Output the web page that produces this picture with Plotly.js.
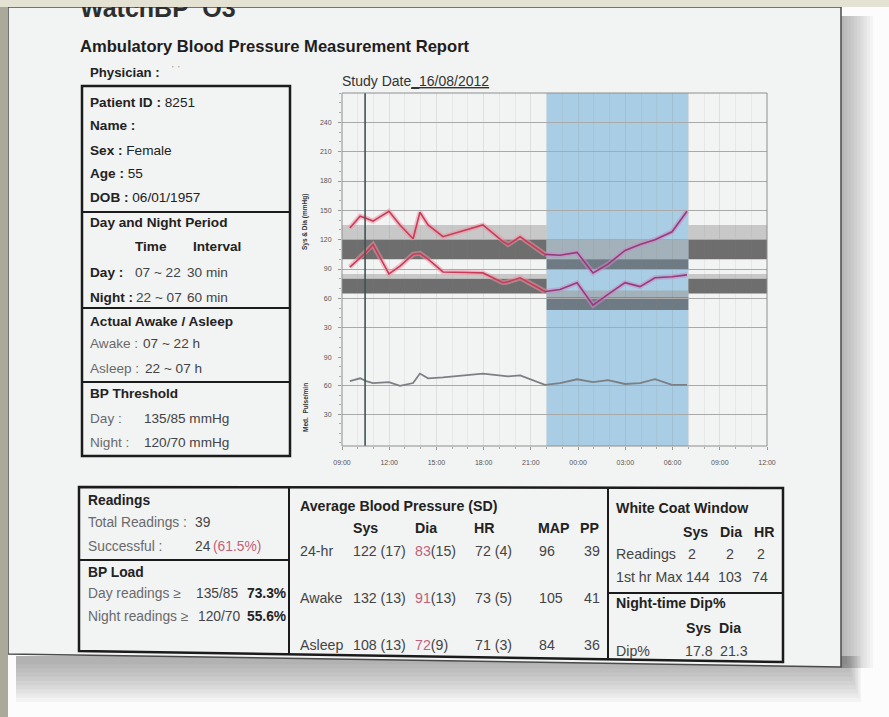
<!DOCTYPE html>
<html><head><meta charset="utf-8">
<script src="https://cdn.plot.ly/plotly-3.0.1.min.js"></script>
<style>html,body{margin:0;padding:0;background:#fff;}#chart{width:889px;height:717px;}</style>
</head><body><div id="chart"></div>
<script>
// ---------- data ----------
const readingTimes = ["2012-08-16 09:30","2012-08-16 10:09","2012-08-16 10:32","2012-08-16 10:58","2012-08-16 11:59","2012-08-16 12:41","2012-08-16 13:31","2012-08-16 13:57","2012-08-16 14:28","2012-08-16 15:25","2012-08-16 17:57","2012-08-16 19:14","2012-08-16 19:33","2012-08-16 20:19","2012-08-16 21:54","2012-08-16 22:51","2012-08-16 23:56","2012-08-17 00:57","2012-08-17 01:54","2012-08-17 02:59","2012-08-17 03:56","2012-08-17 04:53","2012-08-17 05:58","2012-08-17 06:55"];
const sysValues = [132,144,142,139,149,135,121,148,135,123,135,118,115,123,105,104,107,86,95,109,115,120,128,149];
const diaValues = [92,102,107,115,85,93,105,106,100,87,86,76,77,81,67,69,76,53,64,76,72,81,82,84];
const hrValues  = [65,68,65,63,64,60,63,73,68,69,73,71,70,71,61,63,67,64,66,62,63,67,61,61];

const axisStart = "2012-08-16 09:00";
const axisEnd   = "2012-08-17 12:00";
const nightStart = "2012-08-16 22:00";
const nightEnd   = "2012-08-17 07:00";
const whiteCoatEnd = "2012-08-16 10:28";

const bpTicks = [30,60,90,120,150,180,210,240];
const hrTicks = [30,60,90];

// threshold bands [low, high]
const daySysLight = [120,135], daySysDark = [100,120];
const dayDiaLight = [80,85],   dayDiaDark = [65,80];
const nightSysLight = [100,120], nightSysDark = [90,100];
const nightDiaLight = [61,68],   nightDiaDark = [48,61];

// report tables
const avgHeaders = ["Sys","Dia","HR","MAP","PP"];
const avgRowNames = ["24-hr","Awake","Asleep"];
const avgSys = ["122 (17)","132 (13)","108 (13)"];
const avgDia = ["83","91","72"];
const avgDiaSD = ["(15)","(13)","(9)"];
const avgHR = ["72 (4)","73 (5)","71 (3)"];
const avgMAP = ["96","105","84"];
const avgPP = ["39","41","36"];
const wcHeaders = ["Sys","Dia","HR"];
const wcReadings = ["2","2","2"];
const wcFirstMax = ["144","103","74"];
const dipHeaders = ["Sys","Dia"];
const dipValues = ["17.8","21.3"];

// ---------- layout helpers ----------
const W = 889, H = 717;
const F = "'Liberation Sans', Arial, sans-serif";
const px = x => x / W, py = y => 1 - y / H;
const PL = 342, PR = 767, PT = 93, PM = 357, PB = 446;

function T(text, x, y, o = {}) {
  return {text, x: px(x), y: py(y), xref: 'paper', yref: 'paper',
    xanchor: o.anchor || 'left', yanchor: 'middle', showarrow: false,
    textangle: o.angle || 0,
    font: {family: F, size: o.size || 13.6, color: o.color || '#222'}};
}
function line(x0, y0, x1, y1, w, c) {
  return {type: 'line', xref: 'paper', yref: 'paper', x0: px(x0), y0: py(y0), x1: px(x1), y1: py(y1),
    line: {color: c || '#1b1b1b', width: w || 2}, layer: 'above'};
}
function rectP(x0, y0, x1, y1, fill, lc, lw, layer) {
  return {type: 'rect', xref: 'paper', yref: 'paper', x0: px(x0), y0: py(y1), x1: px(x1), y1: py(y0),
    fillcolor: fill || 'rgba(0,0,0,0)', line: {color: lc || 'rgba(0,0,0,0)', width: lw || 0}, layer: layer || 'below'};
}
function poly(pts, fill, lc, lw, layer) {
  const d = pts.map((p, i) => (i ? 'L ' : 'M ') + px(p[0]) + ' ' + py(p[1])).join(' ') + ' Z';
  return {type: 'path', xref: 'paper', yref: 'paper', path: d, fillcolor: fill || 'rgba(0,0,0,0)',
    line: {color: lc || 'rgba(0,0,0,0)', width: lw || 0}, layer: layer || 'below'};
}
function band(t0, t1, r, color) {
  return {type: 'rect', xref: 'x', yref: 'y', x0: t0, x1: t1, y0: r[0], y1: r[1],
    fillcolor: color, line: {width: 0}, layer: 'below'};
}

// ---------- traces ----------
const k = readingTimes.findIndex(t => t >= nightStart) - 1;
const dayT = readingTimes.slice(0, k + 1), nightT = readingTimes.slice(k);
function bpTraces(vals) {
  const d = vals.slice(0, k + 1), n = vals.slice(k);
  return [
    {x: dayT, y: d, mode: 'lines', line: {color: 'rgba(236,150,166,0.55)', width: 5}},
    {x: dayT, y: d, mode: 'lines', line: {color: '#c53d58', width: 1.6}},
    {x: nightT, y: n, mode: 'lines', line: {color: 'rgba(196,140,200,0.55)', width: 5}},
    {x: nightT, y: n, mode: 'lines', line: {color: '#993a78', width: 1.6}}
  ];
}
const traces = [
  ...bpTraces(sysValues),
  ...bpTraces(diaValues),
  {x: readingTimes, y: hrValues, xaxis: 'x', yaxis: 'y2', mode: 'lines', line: {color: '#7c8084', width: 1.8}}
];

// ---------- shapes ----------
const shapes = [];
shapes.push(rectP(0, 0, 889, 717, '#fcfcfc'));
// soft shadow of the screen (right and below)
for (let i = 1; i <= 10; i++) {
  shapes.push(rectP(841, 16, 841 + i * 3.2, 668, 'rgba(70,70,70,0.045)'));
  shapes.push(rectP(16, 656, 846 + i * 1.5, 660 + i * 4.2, 'rgba(70,70,70,0.05)'));
}
// screen
shapes.push(poly([[8, 7], [841, 7], [841, 667], [8, 654]], '#f2f3f3', '#4a4a4a', 1.5));
shapes.push(rectP(0, 0, 8, 717, '#aaa99a'));
// night (blue) region
shapes.push({type: 'rect', xref: 'x', yref: 'paper', x0: nightStart, x1: nightEnd, y0: py(PB), y1: py(PT),
  fillcolor: '#a8cde5', line: {width: 0}, layer: 'below'});
// threshold bands
const LIGHT = '#c8c8c8', DARK = '#6e6e6e', NLIGHT = '#a2b1ba', NDARK = '#6f7b84';
[[axisStart, nightStart], [nightEnd, axisEnd]].forEach(p => {
  shapes.push(band(p[0], p[1], daySysLight, LIGHT));
  shapes.push(band(p[0], p[1], daySysDark, DARK));
  shapes.push(band(p[0], p[1], dayDiaLight, LIGHT));
  shapes.push(band(p[0], p[1], dayDiaDark, DARK));
});
shapes.push(band(nightStart, nightEnd, nightSysLight, NLIGHT));
shapes.push(band(nightStart, nightEnd, nightSysDark, NDARK));
shapes.push(band(nightStart, nightEnd, nightDiaLight, NLIGHT));
shapes.push(band(nightStart, nightEnd, nightDiaDark, NDARK));
// white coat line
shapes.push({type: 'line', xref: 'x', yref: 'paper', x0: whiteCoatEnd, x1: whiteCoatEnd, y0: py(PB), y1: py(PT),
  line: {color: '#3d5454', width: 1.6}, layer: 'above'});
// plot frame
shapes.push(rectP(PL, PT, PR, PB, null, '#8e8e8e', 1, 'above'));
// left info box
shapes.push(rectP(82, 86, 290, 456, null, '#1b1b1b', 2.5, 'above'));
shapes.push(line(82, 212, 290, 212));
shapes.push(line(82, 308, 290, 308));
shapes.push(line(82, 382, 290, 382));
// bottom tables (slightly slanted bottom edge, as in the photo)
shapes.push(poly([[79, 487], [783, 488], [783, 662], [79, 651]], null, '#1b1b1b', 2.5, 'above'));
shapes.push(line(289, 487, 289, 654.5));
shapes.push(line(608, 488, 608, 659.5));
shapes.push(line(79, 560, 289, 560));
shapes.push(line(608, 593, 783, 593));

// ---------- annotations ----------
const G = '#444', LG = '#6a6a6a', PINK = '#c4607a';
const ann = [];
ann.push(T('<b>WatchBP  O3</b>', 78, 8, {size: 25, color: '#2e2e2e'}));
ann.push({text: ' ', x: 0, y: 1, xref: 'paper', yref: 'paper', xanchor: 'left', yanchor: 'top',
  width: 889, height: 7, bgcolor: '#e4e2d2', borderpad: 0, borderwidth: 0, showarrow: false});
ann.push(T('<b>Ambulatory Blood Pressure Measurement Report</b>', 78, 46, {size: 16.6, color: '#1e1e1e'}));
ann.push(T('<b>Physician :</b>', 88, 72, {size: 13.2}));
ann.push(T("'  '", 170, 69, {size: 8, color: '#777'}));
ann.push(T('Study Date<span style="text-decoration:underline">_16/08/2012</span>', 340, 81, {size: 14, color: '#333'}));

// left box
ann.push(T('<b>Patient ID :</b> 8251', 88, 102));
ann.push(T('<b>Name :</b>', 88, 125));
ann.push(T('<b>Sex :</b> Female', 88, 150));
ann.push(T('<b>Age :</b> 55', 88, 174));
ann.push(T('<b>DOB :</b> 06/01/1957', 88, 197));
ann.push(T('<b>Day and Night Period</b>', 88, 223));
ann.push(T('<b>Time</b>', 133, 247));
ann.push(T('<b>Interval</b>', 191, 247));
ann.push(T('<b>Day :</b>', 88, 272));
ann.push(T('07 ~ 22', 133, 272, {color: G}));
ann.push(T('30 min', 185, 272, {color: G}));
ann.push(T('<b>Night :</b>', 88, 297));
ann.push(T('22 ~ 07', 134, 297, {color: G}));
ann.push(T('60 min', 185, 297, {color: G}));
ann.push(T('<b>Actual Awake / Asleep</b>', 88, 322));
ann.push(T('Awake :', 88, 344, {color: LG}));
ann.push(T('07 ~ 22 h', 141, 344, {color: G}));
ann.push(T('Asleep :', 88, 368, {color: LG}));
ann.push(T('22 ~ 07 h', 143, 368, {color: G}));
ann.push(T('<b>BP Threshold</b>', 88, 393));
ann.push(T('Day :', 88, 418, {color: LG}));
ann.push(T('135/85 mmHg', 142, 418, {color: G}));
ann.push(T('Night :', 88, 442, {color: LG}));
ann.push(T('120/70 mmHg', 142, 442, {color: G}));

// axis titles
ann.push(T('<b>Sys & Dia (mmHg)</b>', 305, 222, {size: 6.5, angle: -90, anchor: 'center', color: '#333'}));
ann.push(T('<b>Med.  Pulse/min</b>', 305, 408, {size: 6.5, angle: -90, anchor: 'center', color: '#333'}));

// readings table
const BS = 14.2, RS = 13.8;
ann.push(T('<b>Readings</b>', 86, 500, {size: RS}));
ann.push(T('Total Readings :', 86, 522, {size: RS, color: LG}));
ann.push(T('39', 193, 522, {size: RS, color: G}));
ann.push(T('Successful :', 86, 546, {size: RS, color: LG}));
ann.push(T('24', 193, 546, {size: RS, color: G}));
ann.push(T('(61.5%)', 211, 546, {size: RS, color: PINK}));
ann.push(T('<b>BP Load</b>', 86, 572, {size: RS}));
ann.push(T('Day readings ≥', 86, 593, {size: RS, color: LG}));
ann.push(T('135/85', 194, 593, {size: RS, color: G}));
ann.push(T('<b>73.3%</b>', 245, 593, {size: RS}));
ann.push(T('Night readings ≥', 86, 616, {size: RS, color: LG}));
ann.push(T('120/70', 196, 616, {size: RS, color: G}));
ann.push(T('<b>55.6%</b>', 245, 616, {size: RS}));

// average BP table
ann.push(T('<b>Average Blood Pressure (SD)</b>', 298, 506, {size: BS}));
const colX = [351, 413, 472, 536, 578];
avgHeaders.forEach((h, i) => ann.push(T('<b>' + h + '</b>', colX[i], 528, {size: BS})));
const rowY = [551, 598, 645];
avgRowNames.forEach((r, i) => {
  ann.push(T(r, 298, rowY[i], {size: BS, color: G}));
  ann.push(T(avgSys[i], 351, rowY[i], {size: BS, color: G}));
  ann.push(T('<span style="color:' + PINK + '">' + avgDia[i] + '</span>' + avgDiaSD[i], 413, rowY[i], {size: BS, color: G}));
  ann.push(T(avgHR[i], 473, rowY[i], {size: BS, color: G}));
  ann.push(T(avgMAP[i], 537, rowY[i], {size: BS, color: G}));
  ann.push(T(avgPP[i], 582, rowY[i], {size: BS, color: G}));
});

// white coat window
ann.push(T('<b>White Coat Window</b>', 614, 508, {size: BS}));
const wcHX = [681, 718, 752];
wcHeaders.forEach((h, i) => ann.push(T('<b>' + h + '</b>', wcHX[i], 532, {size: BS})));
ann.push(T('Readings', 614, 554, {size: BS, color: G}));
const wcRX = [686, 724, 755];
wcReadings.forEach((v, i) => ann.push(T(v, wcRX[i], 554, {size: BS, color: G})));
ann.push(T('1st hr Max', 614, 577, {size: BS, color: G}));
const wcMX = [684, 716, 750];
wcFirstMax.forEach((v, i) => ann.push(T(v, wcMX[i], 577, {size: BS, color: G})));
ann.push(T('<b>Night-time Dip%</b>', 614, 603, {size: BS}));
const dipX = [684, 717];
dipHeaders.forEach((h, i) => ann.push(T('<b>' + h + '</b>', dipX[i], 628, {size: BS})));
ann.push(T('Dip%', 614, 651, {size: BS, color: G}));
const dipVX = [683, 718];
dipValues.forEach((v, i) => ann.push(T(v, dipVX[i], 651, {size: BS, color: G})));

// ---------- layout ----------
const tickFont = {family: F, size: 7, color: '#555'};
const layout = {
  width: W, height: H, margin: {l: 0, r: 0, t: 0, b: 0},
  paper_bgcolor: '#fcfcfc', plot_bgcolor: 'rgba(0,0,0,0)', showlegend: false,
  xaxis: {type: 'date', domain: [px(PL), px(PR)], anchor: 'y2', range: [axisStart, axisEnd],
    tickformat: '%H:%M', tick0: axisStart, dtick: 3 * 3600000, tickfont: tickFont,
    ticks: 'outside', ticklen: 3, tickcolor: '#999', ticklabelstandoff: 7,
    showgrid: true, gridcolor: 'rgba(120,120,120,0.16)', zeroline: false, showline: false,
    minor: {dtick: 3600000, ticks: 'outside', ticklen: 2, tickcolor: '#aaa', showgrid: true, gridcolor: 'rgba(140,140,140,0.11)'}},
  yaxis: {domain: [py(PM), py(PT)], range: [0, 270], anchor: 'x', tickvals: bpTicks, tickfont: tickFont,
    ticks: 'outside', ticklen: 3, tickcolor: '#999', ticklabelstandoff: 5,
    showgrid: true, gridcolor: '#a9a9a9', zeroline: false, showline: false,
    minor: {dtick: 10, ticks: 'outside', ticklen: 2, tickcolor: '#aaa', showgrid: false}},
  yaxis2: {domain: [py(PB), py(PM)], range: [-3.5, 90.5], anchor: 'x', tickvals: hrTicks, tickfont: tickFont,
    ticks: 'outside', ticklen: 3, tickcolor: '#999', ticklabelstandoff: 5,
    showgrid: true, gridcolor: '#a9a9a9', zeroline: false, showline: false,
    minor: {dtick: 10, ticks: 'outside', ticklen: 2, tickcolor: '#aaa', showgrid: false}},
  shapes: shapes, annotations: ann
};
Plotly.newPlot('chart', traces, layout, {staticPlot: true, displayModeBar: false});
</script>
</body></html>
